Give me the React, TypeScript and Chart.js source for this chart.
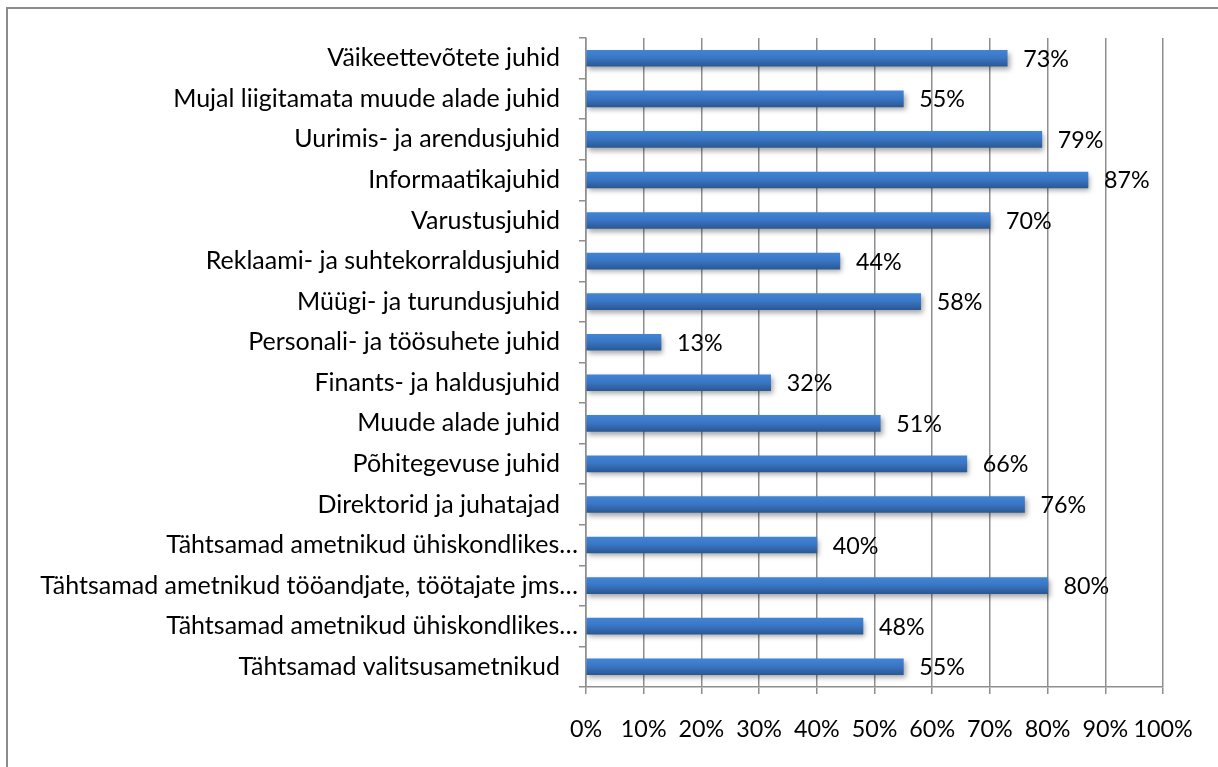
import React, { useEffect, useRef } from "react";
import { Chart, registerables } from "chart.js";

Chart.register(...registerables);

const categories: string[] = [
  "Väikeettevõtete juhid",
  "Mujal liigitamata muude alade juhid",
  "Uurimis- ja arendusjuhid",
  "Informaatikajuhid",
  "Varustusjuhid",
  "Reklaami- ja suhtekorraldusjuhid",
  "Müügi- ja turundusjuhid",
  "Personali- ja töösuhete juhid",
  "Finants- ja haldusjuhid",
  "Muude alade juhid",
  "Põhitegevuse juhid",
  "Direktorid ja juhatajad",
  "Tähtsamad ametnikud ühiskondlikes…",
  "Tähtsamad ametnikud tööandjate, töötajate jms…",
  "Tähtsamad ametnikud ühiskondlikes…",
  "Tähtsamad valitsusametnikud",
];

const values: number[] = [73, 55, 79, 87, 70, 44, 58, 13, 32, 51, 66, 76, 40, 80, 48, 55];

const xMin = 0;
const xMax = 100;
const xStep = 10;

const FAMILY = "Lato";

export default function App() {
  const ref = useRef<HTMLCanvasElement | null>(null);

  useEffect(() => {
    const canvas = ref.current;
    if (!canvas) return;
    const mctx = canvas.getContext("2d")!;
    mctx.font = `100px ${FAMILY}`;
    const w = mctx.measureText("Väikeettevõtete juhid").width;
    const size = Math.round((233 / w) * 100 * 10) / 10;
    const numSize = Math.round(size * 0.93 * 10) / 10;
    const numFont = { family: FAMILY, size: numSize };

    const borderPlugin = {
      id: "outerBorder",
      beforeDraw(chart: any) {
        const ctx = chart.ctx;
        ctx.save();
        ctx.fillStyle = "#ffffff";
        ctx.fillRect(0, 0, chart.width, chart.height);
        ctx.strokeStyle = "#8c8c8c";
        ctx.lineWidth = 2;
        ctx.beginPath();
        ctx.moveTo(7, chart.height);
        ctx.lineTo(7, 8);
        ctx.lineTo(chart.width, 8);
        ctx.stroke();
        ctx.restore();
      },
    };

    const shadowPlugin = {
      id: "barShadow",
      beforeDatasetDraw(chart: any) {
        const ctx = chart.ctx;
        ctx.save();
        ctx.shadowColor = "rgba(0,0,0,0.35)";
        ctx.shadowBlur = 5;
        ctx.shadowOffsetX = 2;
        ctx.shadowOffsetY = 3;
      },
      afterDatasetDraw(chart: any) {
        chart.ctx.restore();
      },
    };

    const categoryLabelPlugin = {
      id: "categoryLabels",
      afterDraw(chart: any) {
        const ctx = chart.ctx;
        const ys = chart.scales.y;
        const left = chart.chartArea.left;
        ctx.save();
        ctx.font = `${size}px ${FAMILY}`;
        ctx.fillStyle = "#000000";
        ctx.textAlign = "right";
        ctx.textBaseline = "middle";
        categories.forEach((label, i) => {
          const y = ys.getPixelForValue(i);
          const truncated = label.endsWith("…");
          const x = left - (truncated ? 8 : 26);
          ctx.fillText(label, x, y);
        });
        ctx.restore();
      },
    };

    const labelPlugin = {
      id: "valueLabels",
      afterDatasetsDraw(chart: any) {
        const ctx = chart.ctx;
        const meta = chart.getDatasetMeta(0);
        ctx.save();
        ctx.font = `${numSize}px ${FAMILY}`;
        ctx.fillStyle = "#000000";
        ctx.textAlign = "left";
        ctx.textBaseline = "middle";
        meta.data.forEach((el: any, i: number) => {
          ctx.fillText(`${values[i]}%`, el.x + 16, el.y + 1);
        });
        ctx.restore();
      },
    };

    const chart = new Chart(canvas, {
      type: "bar",
      data: {
        labels: categories,
        datasets: [
          {
            data: values,
            barThickness: 16,
            borderWidth: 0,
            backgroundColor: (c: any) => {
              const ch = c.chart;
              const ys = ch.scales && ch.scales.y;
              if (!ys || c.dataIndex === undefined) return "#3a76c4";
              const y = ys.getPixelForValue(c.dataIndex);
              if (!Number.isFinite(y)) return "#3a76c4";
              const g = ch.ctx.createLinearGradient(0, y - 8, 0, y + 8);
              g.addColorStop(0, "#4184d4");
              g.addColorStop(0.45, "#3a77c6");
              g.addColorStop(1, "#2b5893");
              return g;
            },
          },
        ],
      },
      options: {
        indexAxis: "y",
        responsive: false,
        animation: false,
        devicePixelRatio: 1,
        layout: { padding: { top: 38, right: 55, left: 0, bottom: 0 } },
        plugins: {
          legend: { display: false },
          tooltip: { enabled: false },
        },
        scales: {
          x: {
            type: "linear",
            position: "bottom",
            min: xMin,
            max: xMax,
            afterFit(scale: any) {
              scale.height = 80;
            },
            ticks: {
              stepSize: xStep,
              autoSkip: false,
              maxRotation: 0,
              minRotation: 0,
              padding: 21,
              color: "#000000",
              font: numFont,
              callback: (v: any) => `${v}%`,
            },
            grid: {
              color: "#8e8e8e",
              lineWidth: 1.5,
              tickLength: 7,
              drawTicks: true,
            },
            border: { display: true, color: "#8e8e8e", width: 1.5 },
          },
          y: {
            type: "category",
            position: "left",
            offset: true,
            afterFit(scale: any) {
              scale.width = 586;
            },
            ticks: {
              display: false,
              autoSkip: false,
            },
            grid: {
              offset: true,
              drawOnChartArea: false,
              drawTicks: true,
              tickLength: 7,
              color: "#8e8e8e",
              lineWidth: 1.5,
            },
            border: { display: true, color: "#8e8e8e", width: 1.5 },
          },
        },
      },
      plugins: [borderPlugin, shadowPlugin, labelPlugin, categoryLabelPlugin],
    } as any);

    return () => chart.destroy();
  }, []);

  return (
    <div
      style={{
        position: "fixed",
        left: 0,
        top: 0,
        width: 1218,
        height: 767,
        overflow: "hidden",
        background: "#fff",
      }}
    >
      <canvas ref={ref} width={1218} height={767} style={{ display: "block" }} />
    </div>
  );
}
